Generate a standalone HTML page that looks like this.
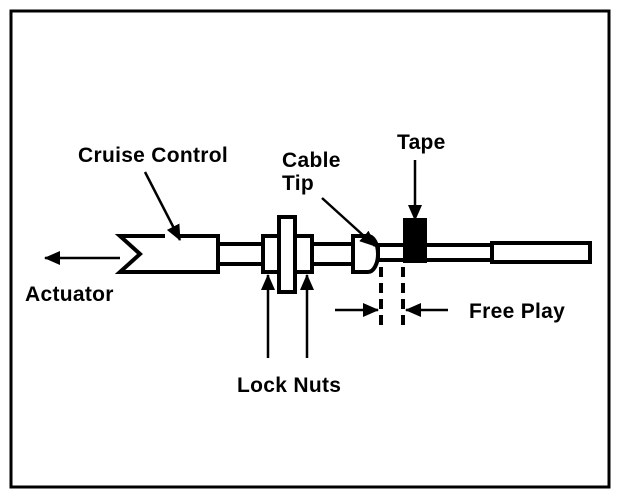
<!DOCTYPE html>
<html><head><meta charset="utf-8"><style>
body{margin:0;background:#fff}
svg{display:block}
text{font-family:"Liberation Sans",Arial,sans-serif;font-weight:bold;font-size:21px;letter-spacing:0.3px;fill:#000}
</style></head><body>
<svg width="624" height="496" viewBox="0 0 624 496">
<defs>
<marker id="b" markerWidth="16" markerHeight="14" refX="15" refY="7" orient="auto" markerUnits="userSpaceOnUse" viewBox="0 0 16 14"><path d="M0,0 L16,7 L0,14 z" fill="#000"/></marker></defs>
<rect x="11" y="11" width="598" height="476" fill="none" stroke="#000" stroke-width="3"/>
<g fill="none" stroke="#000" stroke-width="4">
<path d="M178,236 H218 V272 H120 L140,254 L120,236 H165"/>
<rect x="218" y="244" width="45" height="20"/>
<rect x="263" y="236" width="16" height="36"/>
<rect x="279" y="217" width="16" height="75" fill="#fff"/>
<rect x="295" y="236" width="17" height="36"/>
<rect x="312" y="244" width="41" height="20"/>
<path d="M353,236 H368 A10,18 0 0 1 368,272 H353 Z"/>
<rect x="378" y="245" width="114" height="15"/>
<rect x="492" y="243" width="98" height="19"/>
</g>
<rect x="403" y="218" width="24" height="45" fill="#000"/>
<g stroke="#000" stroke-width="4" stroke-dasharray="10,6"><line x1="381" y1="267" x2="381" y2="330"/><line x1="403" y1="267" x2="403" y2="330"/></g>
<g stroke="#000" stroke-width="2.5">
<line x1="120" y1="258" x2="45" y2="258" marker-end="url(#b)"/>
<line x1="145" y1="172" x2="180" y2="240" marker-end="url(#b)"/>
<line x1="322" y1="198" x2="375" y2="246" marker-end="url(#b)"/>
<line x1="415" y1="160" x2="415" y2="220" marker-end="url(#b)"/>
<line x1="268" y1="358" x2="268" y2="275" marker-end="url(#b)"/>
<line x1="307" y1="358" x2="307" y2="275" marker-end="url(#b)"/>
<line x1="335" y1="310" x2="378" y2="310" marker-end="url(#b)"/>
<line x1="448" y1="310" x2="406" y2="310" marker-end="url(#b)"/>
</g>
<text x="78" y="162">Cruise Control</text>
<text x="282" y="167">Cable</text>
<text x="282" y="190">Tip</text>
<text x="397" y="149">Tape</text>
<text x="25" y="301">Actuator</text>
<text x="469" y="318">Free Play</text>
<text x="237" y="392">Lock Nuts</text>
</svg>
</body></html>
